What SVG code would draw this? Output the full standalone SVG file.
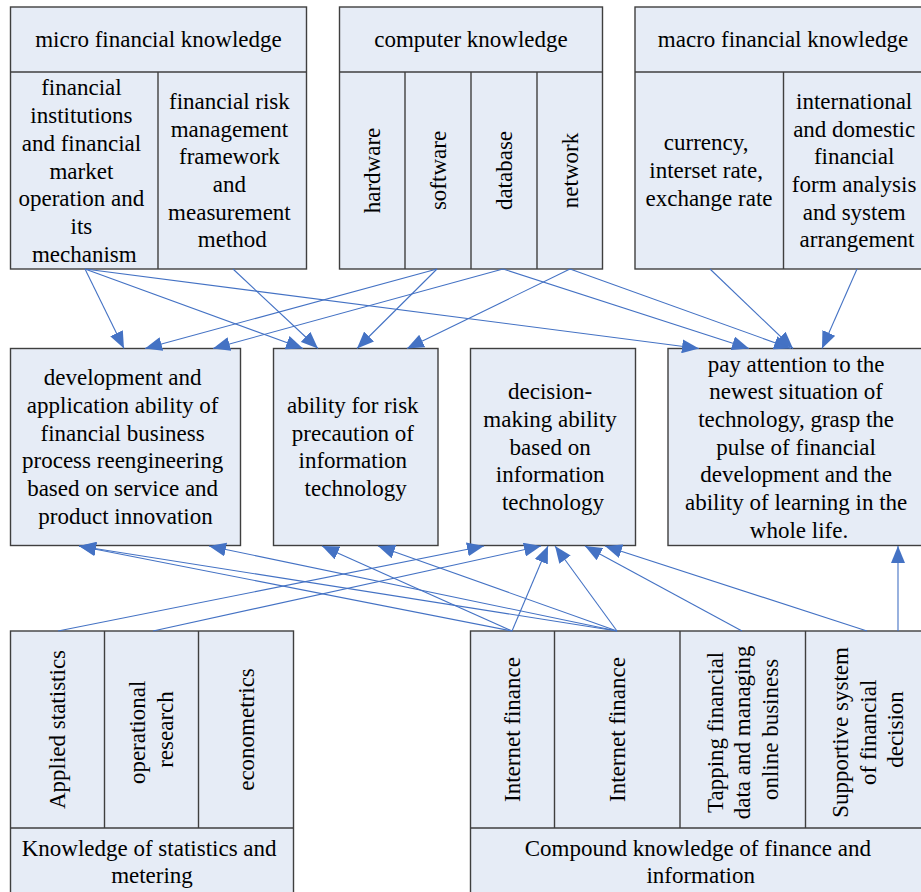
<svg xmlns="http://www.w3.org/2000/svg" width="921" height="892" viewBox="0 0 921 892">
  <style>
    .box { fill: #E6ECF6; stroke: #3F3F3F; stroke-width: 1.4; }
    .div { stroke: #3F3F3F; stroke-width: 1.4; fill: none; }
    .t { font-family: "Liberation Serif", "Times New Roman", serif; font-size: 23px; fill: #000; text-anchor: middle; }
    .conn line { stroke: #4472C4; stroke-width: 1.1; fill: none; marker-end: url(#arrow); }
  </style>
  <defs>
    <marker id="arrow" markerUnits="userSpaceOnUse" markerWidth="17" markerHeight="14" refX="17" refY="7" orient="auto">
      <path d="M0,0 L17,7 L0,14 Z" fill="#4472C4"/>
    </marker>
  </defs>
  <rect width="921" height="892" fill="#FFFFFF"/>

  <!-- top row: knowledge sources -->
  <g id="micro-financial">
    <rect class="box" x="10.5" y="7" width="296" height="262"/>
    <line class="div" x1="10.5" y1="72" x2="306.5" y2="72"/>
    <line class="div" x1="158" y1="72" x2="158" y2="269"/>
    <text class="t" x="158.5" y="47">micro financial knowledge</text>
    <text class="t" x="84.3">
      <tspan x="84.3" y="95.4">financial</tspan>
      <tspan x="84.3" y="123.1">institutions</tspan>
      <tspan x="84.3" y="150.8">and financial</tspan>
      <tspan x="84.3" y="178.5">market</tspan>
      <tspan x="84.3" y="206.2">operation and</tspan>
      <tspan x="84.3" y="233.9">its</tspan>
      <tspan x="84.3" y="261.6">mechanism</tspan>
    </text>
    <text class="t">
      <tspan x="232.3" y="108.8">financial risk</tspan>
      <tspan x="232.3" y="136.5">management</tspan>
      <tspan x="232.3" y="164.2">framework</tspan>
      <tspan x="232.3" y="191.9">and</tspan>
      <tspan x="232.3" y="219.6">measurement</tspan>
      <tspan x="232.3" y="247.3">method</tspan>
    </text>
  </g>

  <g id="computer-knowledge">
    <rect class="box" x="339.5" y="7" width="263" height="262"/>
    <line class="div" x1="339.5" y1="72" x2="602.5" y2="72"/>
    <line class="div" x1="405" y1="72" x2="405" y2="269"/>
    <line class="div" x1="471" y1="72" x2="471" y2="269"/>
    <line class="div" x1="537" y1="72" x2="537" y2="269"/>
    <text class="t" x="471" y="47">computer knowledge</text>
    <text class="t" transform="translate(372,170.5) rotate(-90)" y="7.5">hardware</text>
    <text class="t" transform="translate(438,170.5) rotate(-90)" y="7.5">software</text>
    <text class="t" transform="translate(504,170.5) rotate(-90)" y="7.5">database</text>
    <text class="t" transform="translate(570,170.5) rotate(-90)" y="7.5">network</text>
  </g>

  <g id="macro-financial">
    <rect class="box" x="635" y="7" width="296" height="262"/>
    <line class="div" x1="635" y1="72" x2="931" y2="72"/>
    <line class="div" x1="783.5" y1="72" x2="783.5" y2="269"/>
    <text class="t" x="783" y="47">macro financial knowledge</text>
    <text class="t">
      <tspan x="709" y="150.3">currency,</tspan>
      <tspan x="709" y="178">interset rate,</tspan>
      <tspan x="709" y="205.7">exchange rate</tspan>
    </text>
    <text class="t">
      <tspan x="857" y="108.8">international</tspan>
      <tspan x="857" y="136.5">and domestic</tspan>
      <tspan x="857" y="164.2">financial</tspan>
      <tspan x="857" y="191.9">form analysis</tspan>
      <tspan x="857" y="219.6">and system</tspan>
      <tspan x="857" y="247.3">arrangement</tspan>
    </text>
  </g>

  <!-- middle row: abilities -->
  <g id="process-reengineering">
    <rect class="box" x="10.5" y="348.5" width="230" height="197"/>
    <text class="t">
      <tspan x="125.5" y="385.3">development and</tspan>
      <tspan x="125.5" y="413">application ability of</tspan>
      <tspan x="125.5" y="440.7">financial business</tspan>
      <tspan x="125.5" y="468.4">process reengineering</tspan>
      <tspan x="125.5" y="496.1">based on service and</tspan>
      <tspan x="125.5" y="523.8">product innovation</tspan>
    </text>
  </g>

  <g id="risk-precaution">
    <rect class="box" x="273.5" y="348.5" width="164.5" height="197"/>
    <text class="t">
      <tspan x="355.7" y="413">ability for risk</tspan>
      <tspan x="355.7" y="440.7">precaution of</tspan>
      <tspan x="355.7" y="468.4">information</tspan>
      <tspan x="355.7" y="496.1">technology</tspan>
    </text>
  </g>

  <g id="decision-making">
    <rect class="box" x="470.5" y="348.5" width="165" height="197"/>
    <text class="t">
      <tspan x="553" y="399.2">decision-</tspan>
      <tspan x="553" y="426.9">making ability</tspan>
      <tspan x="553" y="454.6">based on</tspan>
      <tspan x="553" y="482.3">information</tspan>
      <tspan x="553" y="510">technology</tspan>
    </text>
  </g>

  <g id="lifelong-learning">
    <rect class="box" x="668" y="348.5" width="262" height="197"/>
    <text class="t">
      <tspan x="799" y="371.5">pay attention to the</tspan>
      <tspan x="799" y="399.2">newest situation of</tspan>
      <tspan x="799" y="426.9">technology, grasp the</tspan>
      <tspan x="799" y="454.6">pulse of financial</tspan>
      <tspan x="799" y="482.3">development and the</tspan>
      <tspan x="799" y="510">ability of learning in the</tspan>
      <tspan x="799" y="537.7">whole life.</tspan>
    </text>
  </g>

  <!-- bottom row: supporting knowledge -->
  <g id="statistics-metering">
    <rect class="box" x="10.5" y="631" width="283" height="265"/>
    <line class="div" x1="10.5" y1="828" x2="293.5" y2="828"/>
    <line class="div" x1="104.5" y1="631" x2="104.5" y2="828"/>
    <line class="div" x1="198.5" y1="631" x2="198.5" y2="828"/>
    <text class="t" transform="translate(57.5,729.5) rotate(-90)" y="7.5">Applied statistics</text>
    <text class="t" transform="translate(151.5,729.5) rotate(-90)">
      <tspan x="0" y="-6.3">operational</tspan>
      <tspan x="0" y="21.4">research</tspan>
    </text>
    <text class="t" transform="translate(246,729.5) rotate(-90)" y="7.5">econometrics</text>
    <text class="t">
      <tspan x="152" y="855.7">Knowledge of statistics and</tspan>
      <tspan x="152" y="883.4">metering</tspan>
    </text>
  </g>

  <g id="finance-information">
    <rect class="box" x="470.5" y="631" width="460.5" height="265"/>
    <line class="div" x1="470.5" y1="828" x2="931" y2="828"/>
    <line class="div" x1="554.5" y1="631" x2="554.5" y2="828"/>
    <line class="div" x1="680" y1="631" x2="680" y2="828"/>
    <line class="div" x1="805.5" y1="631" x2="805.5" y2="828"/>
    <text class="t" transform="translate(512.5,729.5) rotate(-90)" y="7.5">Internet finance</text>
    <text class="t" transform="translate(617.3,729.5) rotate(-90)" y="7.5">Internet finance</text>
    <text class="t" transform="translate(742.7,729.5) rotate(-90)">
      <tspan x="0" y="-20.2">Tapping financial</tspan>
      <tspan x="0" y="7.5">data and managing</tspan>
      <tspan x="0" y="35.2">online business</tspan>
    </text>
    <text class="t" transform="translate(868,729.5) rotate(-90)">
      <tspan x="0" y="-20.2">Supportive system</tspan>
      <tspan x="0" y="7.5">of financial</tspan>
      <tspan x="0" y="35.2">decision</tspan>
    </text>
    <text class="t">
      <tspan x="700.7" y="855.7">Compound knowledge of finance and</tspan>
      <tspan x="700.7" y="883.4">information</tspan>
    </text>
  </g>

  <!-- connectors -->
  <g id="connectors" class="conn">
    <line x1="85" y1="269" x2="124" y2="348.5"/>
    <line x1="85" y1="269" x2="303" y2="348.5"/>
    <line x1="85" y1="269" x2="699" y2="348.5"/>
    <line x1="233" y1="269" x2="318" y2="348.5"/>
    <line x1="437" y1="269" x2="145" y2="348.5"/>
    <line x1="437" y1="269" x2="357" y2="348.5"/>
    <line x1="503" y1="269" x2="213" y2="348.5"/>
    <line x1="503" y1="269" x2="749" y2="348.5"/>
    <line x1="570" y1="269" x2="407" y2="348.5"/>
    <line x1="570" y1="269" x2="791" y2="348.5"/>
    <line x1="710" y1="269" x2="793" y2="348.5"/>
    <line x1="857" y1="269" x2="822" y2="348.5"/>

    <line x1="58" y1="631" x2="484" y2="546"/>
    <line x1="153" y1="631" x2="541" y2="546"/>
    <line x1="512" y1="631" x2="79" y2="546"/>
    <line x1="512" y1="631" x2="322" y2="546"/>
    <line x1="512" y1="631" x2="548" y2="546"/>
    <line x1="617" y1="631" x2="79" y2="546"/>
    <line x1="617" y1="631" x2="209" y2="546"/>
    <line x1="617" y1="631" x2="378" y2="546"/>
    <line x1="617" y1="631" x2="555" y2="546"/>
    <line x1="742" y1="631" x2="585" y2="546"/>
    <line x1="867" y1="631" x2="605" y2="546"/>
    <line x1="898" y1="631" x2="898" y2="546"/>
  </g>
</svg>
